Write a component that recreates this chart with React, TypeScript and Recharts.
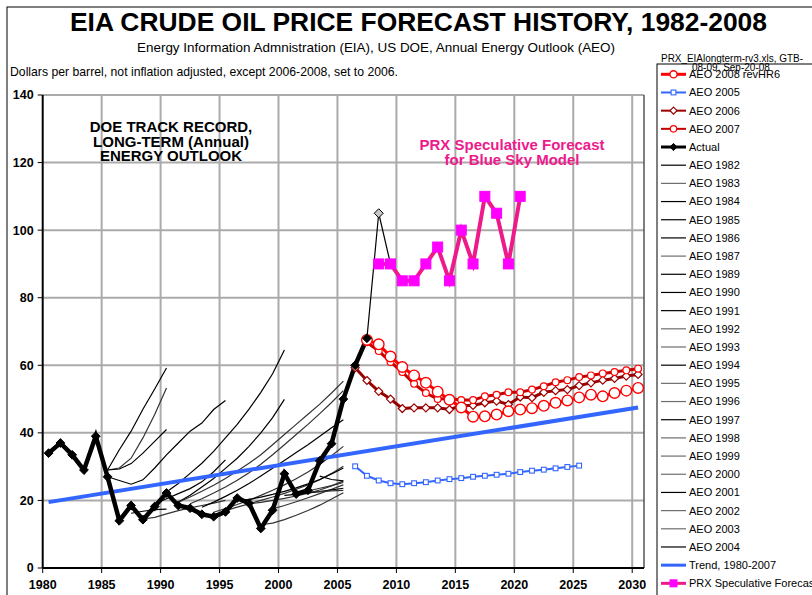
import React from 'react';
import { LineChart, Line, XAxis, YAxis, ReferenceLine } from 'recharts';

const FONT = '"Liberation Sans", Arial, Helvetica, sans-serif';

// ---------- axis ticks ----------
const xTicks = [1980, 1985, 1990, 1995, 2000, 2005, 2010, 2015, 2020, 2025, 2030];
const yTicks = [0, 20, 40, 60, 80, 100, 120, 140];

// ---------- history ----------
const actualStart = 1980;
const actualValues = [34, 37, 33.5, 29, 39, 27, 14, 18.5, 14.3, 18.2, 22.2, 18.5, 17.7, 15.9, 15.2, 16.6, 20.7, 19.2, 11.7, 17.1, 27.9, 21.9, 23, 31.7, 36.8, 50, 60, 68];
const actual2008Start = 2007;
const actual2008Values = [68, 105, 90];

// ---------- recent AEO forecasts ----------
const aeo2008Start = 2007;
const aeo2008Values = [67.5, 66.2, 62.6, 59.5, 57, 54.8, 52.2, 49.8, 47.5, 44.8, 44.9, 45.4, 46.4, 46.9, 47.3, 48, 48.9, 49.6, 50.5, 51.3, 50.8, 51.8, 52.5, 53.3];
const aeo2007Start = 2007;
const aeo2007Values = [66.8, 64.2, 61, 58, 54.5, 51.8, 50, 50.2, 49.7, 49.7, 50.8, 51.3, 52, 52, 52.8, 53.8, 55, 55.6, 56.5, 57, 57.6, 58, 58.5, 59];
const aeo2006Start = 2006;
const aeo2006Values = [59.3, 55.5, 52.3, 50, 47.2, 47.4, 47.4, 47.4, 46.9, 48.1, 48.1, 48.9, 49.4, 48.4, 50.6, 50.4, 52, 52.5, 52.8, 54, 54.8, 55.6, 56.1, 56.8, 57.3];
const aeo2005Start = 2006;
const aeo2005Values = [30.1, 27.3, 25.9, 25.1, 24.8, 25.1, 25.4, 25.9, 26.3, 26.6, 27.0, 27.3, 27.6, 27.9, 28.4, 28.8, 29.1, 29.5, 29.9, 30.3];

// ---------- trend & speculative ----------
const trendYears = [1980, 2030];
const trendValues = [19.5, 47.5];
const prxStart = 2008;
const prxValues = [90, 90, 85, 85, 90, 95, 85, 100, 90, 110, 105, 90, 110];

// ---------- older AEO forecasts ----------
const aeo1982 = { start: 1985, values: [29, 35, 40.5, 47, 53, 59.2] };
const aeo1983 = { start: 1985, values: [29, 29.6, 32.5, 38.5, 45.4, 53.3] };
const aeo1984 = { start: 1985, values: [29, 29.3, 30.9, 34, 37.5, 41] };
const aeo1985 = { start: 1985, values: [27, 25.9, 24.8, 26.1, 29.6, 33.5, 37, 40.5, 42.9, 46.9, 49.6] };
const aeo1986 = { start: 1987, values: [16.2, 16.8, 17.3, 17.4] };
const aeo1987 = { start: 1988, values: [14.5, 15, 16, 17, 17.8, 18.5, 19.2, 20] };
const aeo1989 = { start: 1989, values: [19, 20.5, 22, 23.5, 25.5, 28.5, 32] };
const aeo1990 = { start: 1990, values: [22.5, 25, 28, 31, 34.5, 38.5, 42.5, 47, 52, 57.5, 64.5] };
const aeo1991 = { start: 1991, values: [19.5, 21.5, 24, 26.5, 29.5, 32.5, 36, 40, 44.5, 49.9] };
const aeo1992 = { start: 1991, values: [19.5, 21, 22.7, 24.5, 26.5, 28.7, 31, 33.5, 36.5, 39.5, 42.5, 45.5, 48.5, 51.8, 55.3] };
const aeo1993 = { start: 1992, values: [19, 20.5, 22.2, 24, 26, 28.2, 30.7, 33.5, 36.5, 39.5, 42.5, 45.7, 49, 52.5] };
const aeo1994 = { start: 1993, values: [18, 19.5, 21.2, 23, 25, 27.2, 29.5, 31.8, 34.2, 36.5, 39, 41.5, 43.9] };
const aeo1995 = { start: 1994, values: [16.5, 17.6, 18.8, 20.1, 21.5, 23, 24.6, 26.4, 28.4, 30.7, 33.2, 36] };
const aeo1996 = { start: 1995, values: [17, 18, 19, 20, 21, 22.1, 23.3, 24.6, 26.1, 28, 30.1] };
const aeo1997 = { start: 1996, values: [20, 20.3, 21, 21.8, 22.7, 23.7, 24.9, 26.2, 27.8, 29.6] };
const aeo1998 = { start: 1997, values: [19, 19.4, 20, 20.6, 21.3, 22.1, 23.1, 24.3, 25.8] };
const aeo1999 = { start: 1998, values: [12.8, 13.3, 14.3, 15.6, 17, 18.6, 20.4, 22.3] };
const aeo2000 = { start: 1999, values: [17.5, 18.5, 19.6, 20.8, 22, 23.3, 24.6] };
const aeo2001 = { start: 2000, values: [21.5, 21.8, 22.2, 22.6, 23.1, 23.6] };
const aeo2002 = { start: 2001, values: [22, 22.8, 23.6, 24.4, 25.3] };
const aeo2003 = { start: 2002, values: [22.5, 22.6, 22.8, 23] };
const aeo2004 = { start: 2003, values: [27.2, 26.2, 25.8] };

const BLACK = '#000000';
const GREY = '#6e6e6e';
const GREY_PLOT = '#333333';
const oldForecasts = [
  { name: 'AEO 1982', s: aeo1982, color: BLACK },
  { name: 'AEO 1983', s: aeo1983, color: GREY },
  { name: 'AEO 1984', s: aeo1984, color: BLACK },
  { name: 'AEO 1985', s: aeo1985, color: BLACK },
  { name: 'AEO 1986', s: aeo1986, color: BLACK },
  { name: 'AEO 1987', s: aeo1987, color: GREY },
  { name: 'AEO 1989', s: aeo1989, color: BLACK },
  { name: 'AEO 1990', s: aeo1990, color: BLACK },
  { name: 'AEO 1991', s: aeo1991, color: BLACK },
  { name: 'AEO 1992', s: aeo1992, color: GREY },
  { name: 'AEO 1993', s: aeo1993, color: GREY },
  { name: 'AEO 1994', s: aeo1994, color: BLACK },
  { name: 'AEO 1995', s: aeo1995, color: GREY },
  { name: 'AEO 1996', s: aeo1996, color: GREY },
  { name: 'AEO 1997', s: aeo1997, color: BLACK },
  { name: 'AEO 1998', s: aeo1998, color: GREY },
  { name: 'AEO 1999', s: aeo1999, color: GREY },
  { name: 'AEO 2000', s: aeo2000, color: GREY },
  { name: 'AEO 2001', s: aeo2001, color: BLACK },
  { name: 'AEO 2002', s: aeo2002, color: GREY },
  { name: 'AEO 2003', s: aeo2003, color: GREY },
  { name: 'AEO 2004', s: aeo2004, color: BLACK },
];

// ---------- colours ----------
const RED = '#FF0000';
const RED2007 = '#C00000';
const RED2006 = '#990000';
const BLUE = '#3366FF';
const PINK = '#EE1A8C';
const MAGENTA = '#FF00FF';
const GRID = '#ABABAB';

// points sit in the middle of each yearly category
const toPoints = (start: number, values: number[]) => values.map((v, i) => ({ x: start + i + 0.5, y: v }));
const pairPoints = (years: number[], values: number[]) => values.map((v, i) => ({ x: years[i] + 0.5, y: v }));

type MarkerSpec = { kind: 'circle' | 'diamond' | 'square'; r: number; fill: string; stroke: string; sw: number };

function Marker({ cx, cy, m }: { cx: number; cy: number; m: MarkerSpec }) {
  if (m.kind === 'circle') return <circle cx={cx} cy={cy} r={m.r} fill={m.fill} stroke={m.stroke} strokeWidth={m.sw} />;
  if (m.kind === 'square') return <rect x={cx - m.r} y={cy - m.r} width={m.r * 2} height={m.r * 2} fill={m.fill} stroke={m.stroke} strokeWidth={m.sw} />;
  return <path d={`M${cx} ${cy - m.r}L${cx + m.r} ${cy}L${cx} ${cy + m.r}L${cx - m.r} ${cy}Z`} fill={m.fill} stroke={m.stroke} strokeWidth={m.sw} />;
}

const makeDot = (m: MarkerSpec, only?: number) => (p: any) => {
  const key = `d-${p.index}`;
  if (p.cx == null || p.cy == null || (only !== undefined && p.index !== only)) return <g key={key} />;
  return <g key={key}><Marker cx={p.cx} cy={p.cy} m={m} /></g>;
};

const mk2008: MarkerSpec = { kind: 'circle', r: 5.3, fill: '#fff', stroke: RED, sw: 1.4 };
const mk2007: MarkerSpec = { kind: 'circle', r: 3.4, fill: '#fff', stroke: RED, sw: 1.2 };
const mk2006: MarkerSpec = { kind: 'diamond', r: 4, fill: '#fff', stroke: RED2006, sw: 1.2 };
const mk2005: MarkerSpec = { kind: 'square', r: 2.4, fill: '#fff', stroke: BLUE, sw: 1.1 };
const mkActual: MarkerSpec = { kind: 'diamond', r: 4.4, fill: '#000', stroke: '#000', sw: 1 };
const mkActual08: MarkerSpec = { kind: 'diamond', r: 4.5, fill: '#C8C8C8', stroke: '#000', sw: 1 };
const mkPrx: MarkerSpec = { kind: 'square', r: 5, fill: MAGENTA, stroke: MAGENTA, sw: 1 };

const legendItems: { label: string; color: string; width: number; marker?: MarkerSpec }[] = [
  { label: 'AEO 2008 revHR6', color: RED, width: 3, marker: { ...mk2008, r: 3.6 } },
  { label: 'AEO 2005', color: BLUE, width: 2, marker: mk2005 },
  { label: 'AEO 2006', color: RED2006, width: 2, marker: { ...mk2006, r: 3.5 } },
  { label: 'AEO 2007', color: RED2007, width: 2, marker: { ...mk2007, r: 3.2 } },
  { label: 'Actual', color: '#000', width: 3, marker: { ...mkActual, r: 3.6 } },
  ...oldForecasts.map((f) => ({ label: f.name, color: f.color, width: 1.2 })),
  { label: 'Trend, 1980-2007', color: BLUE, width: 3 },
  { label: 'PRX Speculative Forecast', color: PINK, width: 3, marker: { ...mkPrx, r: 3.5 } },
];

const common = { type: 'linear' as const, dataKey: 'y', isAnimationActive: false, activeDot: false, legendType: 'none' as const };

export default function App() {
  const W = 812;
  const H = 595;
  const tickStyle = { fill: '#000', fontSize: 12.5, fontWeight: 'bold', fontFamily: FONT };
  return (
    <div style={{ position: 'absolute', left: 0, top: 0, width: W, height: H, background: '#fff', overflow: 'hidden', fontFamily: FONT }}>
      <div style={{ position: 'absolute', left: 0, top: 0 }}>
        <LineChart width={W} height={H} margin={{ top: 95, right: 168, bottom: 7, left: 2.7 }}>
          <XAxis
            type="number"
            dataKey="x"
            domain={[1980, 2031]}
            ticks={xTicks}
            allowDataOverflow
            height={20}
            tickSize={5}
            tickMargin={7}
            tick={tickStyle}
            axisLine={{ stroke: '#000', strokeWidth: 2 }}
            tickLine={{ stroke: '#000' }}
            interval={0}
          />
          <YAxis
            type="number"
            domain={[0, 140]}
            ticks={yTicks}
            allowDataOverflow
            width={40}
            tickSize={5}
            tickMargin={4}
            tick={tickStyle}
            axisLine={{ stroke: '#000', strokeWidth: 2 }}
            tickLine={{ stroke: '#000' }}
            interval={0}
          />
          {yTicks.filter((t) => t > 0).map((t) => (
            <ReferenceLine key={`gy${t}`} y={t} stroke={GRID} strokeWidth={2} ifOverflow="visible" />
          ))}
          {xTicks.filter((t) => t > 1980).map((t) => (
            <ReferenceLine key={`gx${t}`} x={t} stroke={GRID} strokeWidth={2} ifOverflow="visible" />
          ))}
          <ReferenceLine x={2031} stroke="#555" strokeWidth={1.5} ifOverflow="visible" />
          {oldForecasts.map((f) => (
            <Line key={f.name} {...common} data={toPoints(f.s.start, f.s.values)} stroke={f.color === GREY ? GREY_PLOT : f.color} strokeWidth={1.2} dot={false} />
          ))}
          <Line {...common} data={pairPoints(trendYears, trendValues)} stroke={BLUE} strokeWidth={4} dot={false} />
          <Line {...common} data={toPoints(aeo2005Start, aeo2005Values)} stroke={BLUE} strokeWidth={2} dot={makeDot(mk2005)} />
          <Line {...common} data={toPoints(aeo2006Start, aeo2006Values)} stroke={RED2006} strokeWidth={3} dot={makeDot(mk2006)} />
          <Line {...common} data={toPoints(aeo2007Start, aeo2007Values)} stroke={RED2007} strokeWidth={3} dot={makeDot(mk2007)} />
          <Line {...common} data={toPoints(aeo2008Start, aeo2008Values)} stroke={RED} strokeWidth={3} dot={makeDot(mk2008)} />
          <Line {...common} data={toPoints(actualStart, actualValues)} stroke="#000" strokeWidth={4.5} dot={makeDot(mkActual)} />
          <Line {...common} data={toPoints(actual2008Start, actual2008Values)} stroke="#000" strokeWidth={1.2} dot={makeDot(mkActual08, 1)} />
          <Line {...common} data={toPoints(prxStart, prxValues)} stroke={PINK} strokeWidth={4} dot={makeDot(mkPrx)} />
        </LineChart>
      </div>
      <svg width={W} height={H} style={{ position: 'absolute', left: 0, top: 0, pointerEvents: 'none' }} fontFamily={FONT}>
        <rect x={7} y={7} width={W + 50} height={H + 50} fill="none" stroke="#000" strokeWidth={1} />
        <text x={418.5} y={31} textAnchor="middle" fontSize={25} fontWeight="bold" textLength={697} lengthAdjust="spacingAndGlyphs">EIA CRUDE OIL PRICE FORECAST HISTORY, 1982-2008</text>
        <text x={376} y={52} textAnchor="middle" fontSize={13.4} textLength={478} lengthAdjust="spacingAndGlyphs">Energy Information Admnistration (EIA), US DOE, Annual Energy Outlook (AEO)</text>
        <text x={10} y={76} fontSize={12.2} textLength={388} lengthAdjust="spacingAndGlyphs">Dollars per barrel, not inflation adjusted, except 2006-2008, set to 2006.</text>
        <text x={661} y={62} fontSize={10} textLength={142} lengthAdjust="spacingAndGlyphs">PRX_EIAlongterm-rv3.xls, GTB-</text>

        <g fontSize={15} fontWeight="bold" textAnchor="middle">
          <text x={171} y={131.5}>DOE TRACK RECORD,</text>
          <text x={171} y={146.5}>LONG-TERM (Annual)</text>
          <text x={171} y={161}>ENERGY OUTLOOK</text>
        </g>
        <g fontSize={15} fontWeight="bold" textAnchor="middle" fill={PINK}>
          <text x={512} y={150}>PRX Speculative Forecast</text>
          <text x={512} y={165}>for Blue Sky Model</text>
        </g>

        <rect x={657} y={64} width={300} height={600} fill="#fff" stroke="#000" strokeWidth={1} />
        <text x={692} y={71} fontSize={10}>08-09, Sep-20-08</text>
        {legendItems.map((it, i) => {
          const cy = 74.3 + i * 18.18;
          return (
            <g key={it.label}>
              <line x1={661} x2={686} y1={cy} y2={cy} stroke={it.color} strokeWidth={it.width} />
              {it.marker && <Marker cx={673.5} cy={cy} m={it.marker} />}
              <text x={689} y={cy + 3.9} fontSize={11}>{it.label}</text>
            </g>
          );
        })}
      </svg>
    </div>
  );
}
